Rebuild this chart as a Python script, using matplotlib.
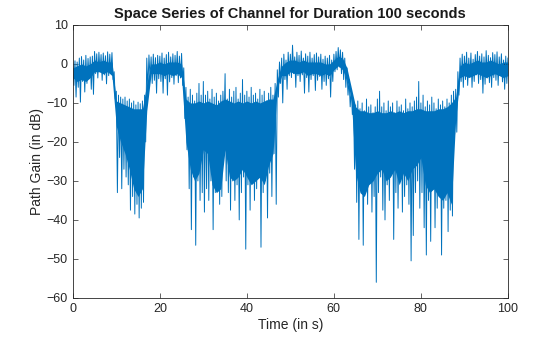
import numpy as np
import matplotlib.pyplot as plt

plt.rcParams['font.family'] = ['Liberation Sans', 'DejaVu Sans']

# path gain (dB): peaks at t = 0, 0.5, ..., 100 s and troughs at t = 0.25, 0.75, ..., 99.75 s
peak_db = [
    0.3, 0.8, 0.5, 1.5, 1.9, 1.0, 2.2, 1.4, 1.8, 2.0, 3.2, 2.6, 3.0, 2.4, 2.8, 2.1, 3.1, 2.5, 2.9, -2.0,
    -7.0, -8.0, -8.5, -9.0, -8.5, -9.5, -9.0, -10.0, -9.5, -10.5, -9.8, -10.2, -9.5, -8.0, 1.5, 2.3, 1.8, 2.5, 1.6, 2.2,
    2.0, 2.8, 1.5, 2.4, 3.0, 1.8, 2.6, 2.2, 3.2, 2.0, 2.7, -1.0, -6.0, -8.5, -6.5, -8.0, -9.5, -7.5, -5.0, -8.0,
    -4.5, -8.0, -7.0, -9.0, -6.5, -8.5, -7.5, -9.5, -8.0, -7.0, -2.5, -9.0, -6.5, -8.5, -7.0, -6.0, -9.0, -7.5, -4.0, -8.0,
    -7.0, -8.5, -6.0, -8.0, -7.5, -9.0, -6.5, -8.0, -7.0, -9.5, -7.5, -6.0, -8.0, -5.0, -1.5, 0.5, 1.5, 2.5, 1.0, 3.0,
    2.5, 4.8, 1.8, 3.0, 2.2, 3.3, 1.5, 2.6, 2.0, 3.0, 1.5, 2.4, 2.8, 1.8, 2.5, 1.2, 2.0, 1.5, 2.2, 1.0,
    2.5, 3.2, 4.2, 3.6, 3.0, 1.5, -1.0, -4.0, -6.5, -9.0, -10.5, -9.5, -11.5, -10.0, -12.0, -9.0, -11.0, -10.5, -12.5, -11.0,
    -9.0, -7.0, -11.0, -10.0, -12.0, -9.5, -11.0, -10.0, -12.5, -9.5, -11.0, -10.5, -12.0, -9.0, -11.5, -10.0, -11.0, -9.5, -8.5, -4.5,
    -10.0, -8.0, -11.0, -9.5, -10.5, -8.5, -10.0, -11.5, -9.0, -10.5, -9.5, -11.0, -9.0, -10.0, -8.0, -7.0, -6.5, -2.0, 1.5, 2.5,
    2.0, 3.0, 1.5, 2.8, 1.2, 2.4, 3.2, 2.0, 2.6, 1.8, 3.4, 2.2, 1.6, 2.9, 2.4, 3.1, 1.8, 2.6, 1.0, 2.0,
    1.5,
]
trough_db = [
    -5.5, -8.5, -6.0, -9.8, -4.5, -7.2, -5.0, -3.8, -6.5, -7.8, -2.5, -3.6, -1.8, -4.2, -2.8, -5.1, -3.0, -2.2, -4.0, -9.0,
    -33.0, -24.0, -32.0, -27.0, -29.0, -31.0, -37.5, -34.0, -38.5, -36.0, -39.5, -37.0, -35.5, -20.0, -6.5, -3.5, -5.0, -4.2, -7.5, -3.8,
    -4.5, -7.5, -3.8, -8.0, -4.6, -3.5, -5.2, -3.0, -4.8, -3.6, -5.5, -14.0, -22.0, -32.0, -42.5, -29.0, -46.5, -30.0, -35.0, -33.0,
    -38.0, -32.0, -35.0, -30.0, -42.5, -33.0, -29.0, -36.0, -34.0, -17.0, -30.0, -33.0, -37.5, -30.0, -35.0, -31.0, -40.0, -33.0, -29.0, -47.5,
    -31.0, -37.5, -30.0, -35.0, -32.0, -29.0, -47.0, -33.0, -30.0, -39.5, -28.0, -34.0, -23.0, -36.0, -8.5, -5.0, -10.0, -4.0, -6.5, -3.0,
    -3.5, -2.5, -6.0, -3.0, -4.5, -2.8, -7.5, -3.5, -7.2, -4.0, -3.0, -6.8, -4.2, -3.2, -6.5, -4.5, -5.5, -3.8, -8.5, -4.5,
    -2.0, -1.5, -0.8, -2.5, -4.0, -6.0, -8.0, -11.0, -13.0, -27.0, -35.5, -45.0, -30.0, -46.5, -33.0, -36.0, -29.0, -38.0, -34.0, -56.0,
    -33.0, -29.0, -37.5, -40.0, -31.0, -35.0, -28.0, -45.0, -33.0, -37.0, -30.0, -38.0, -34.0, -31.0, -36.0, -50.5, -44.0, -33.0, -30.0, -37.0,
    -33.0, -42.0, -49.0, -35.0, -45.5, -32.0, -42.0, -37.0, -34.0, -49.0, -37.0, -35.0, -43.0, -37.5, -39.0, -18.0, -17.5, -8.0, -4.5, -6.0,
    -4.0, -5.5, -3.2, -6.0, -4.5, -2.8, -5.0, -4.0, -7.5, -5.2, -3.6, -4.8, -6.0, -3.5, -4.2, -5.5, -3.0, -4.6, -6.5, -5.0,
]

# dense part of the trace, sampled every second (t = 0 ... 100 s)
core_hi = [
    -1.0, -0.5, 0.0, -0.5, 0.0, 1.0, 0.5, 1.0, 0.5, 0.5,
    -9.5, -10.0, -10.5, -11.0, -11.5, -11.5, -11.5, -5.0, 0.0, 0.0,
    0.5, 0.0, 0.5, 0.5, 0.5, 0.0, -9.0, -10.0, -10.0, -9.5,
    -10.0, -9.5, -10.0, -10.5, -9.5, -9.0, -9.5, -10.0, -9.5, -10.0,
    -9.5, -10.0, -9.5, -10.0, -9.5, -9.0, -9.0, -4.0, -0.5, 0.5,
    1.0, 1.0, 0.5, 1.0, 0.5, 0.5, 0.5, 0.5, 0.0, 0.0,
    1.0, 2.0, 1.5, -1.0, -6.0, -11.0, -12.0, -12.0, -12.5, -12.5,
    -12.0, -12.5, -12.5, -12.0, -12.5, -12.0, -12.5, -12.0, -12.0, -11.5,
    -11.5, -12.0, -12.0, -12.0, -11.5, -11.5, -11.0, -10.0, -8.5, -0.5,
    0.5, 0.0, 0.5, 1.0, 0.5, 0.5, 1.0, 0.5, 0.0, 0.5, 0.5,
]
core_lo = [
    -3.5, -4.5, -4.0, -4.5, -3.5, -2.0, -2.0, -2.5, -2.0, -3.0,
    -16.0, -20.0, -23.0, -27.0, -32.0, -34.0, -32.0, -12.0, -2.5, -2.5,
    -2.5, -3.0, -2.5, -3.0, -2.5, -3.5, -20.0, -27.0, -30.0, -28.0,
    -22.0, -23.0, -31.0, -33.0, -32.0, -22.0, -29.0, -30.0, -29.0, -27.0,
    -29.0, -31.0, -30.0, -29.0, -31.0, -26.0, -23.0, -6.0, -3.0, -3.0,
    -2.0, -2.5, -2.5, -2.0, -3.0, -2.5, -2.5, -3.0, -2.5, -3.0,
    -1.5, -0.5, -1.5, -4.0, -9.0, -28.0, -33.0, -34.0, -31.0, -30.0,
    -28.0, -27.0, -30.0, -29.0, -27.0, -31.0, -28.0, -30.0, -27.0, -26.0,
    -24.0, -31.0, -33.0, -32.0, -34.0, -35.0, -33.0, -36.0, -14.0, -3.5,
    -3.0, -3.5, -3.0, -2.5, -3.0, -3.5, -3.0, -2.5, -3.0, -3.5, -3.0,
]

n = len(peak_db) + len(trough_db)
t = np.arange(n) * 0.25
gain = np.empty(n)
gain[0::2] = peak_db
gain[1::2] = trough_db
t_core = np.arange(len(core_hi))

blue = '#0072BD'

fig = plt.figure(figsize=(5.6, 3.37), dpi=100)
ax = fig.add_axes([0.13, 0.116, 0.777, 0.81])
ax.fill_between(t_core, core_lo, core_hi, color=blue, lw=0)
ax.plot(t, gain, color=blue, lw=0.7)

ax.set_xlim(0, 100)
ax.set_ylim(-60, 10)
ax.set_xticks(np.arange(0, 101, 20))
ax.set_yticks(np.arange(-60, 11, 10))
ax.tick_params(direction='in', top=True, right=True, length=3.5, width=0.5,
               colors='#262626', labelsize=9)
for s in ax.spines.values():
    s.set_linewidth(0.6)
    s.set_color('#262626')

ax.set_title('Space Series of Channel for Duration 100 seconds', fontsize=10.5,
             fontweight='bold', color='#1a1a1a', pad=5)
ax.set_xlabel('Time (in s)', fontsize=10, color='#262626', labelpad=2)
ax.set_ylabel('Path Gain (in dB)', fontsize=10, color='#262626', labelpad=2)

fig.savefig('out.png', dpi=100)
